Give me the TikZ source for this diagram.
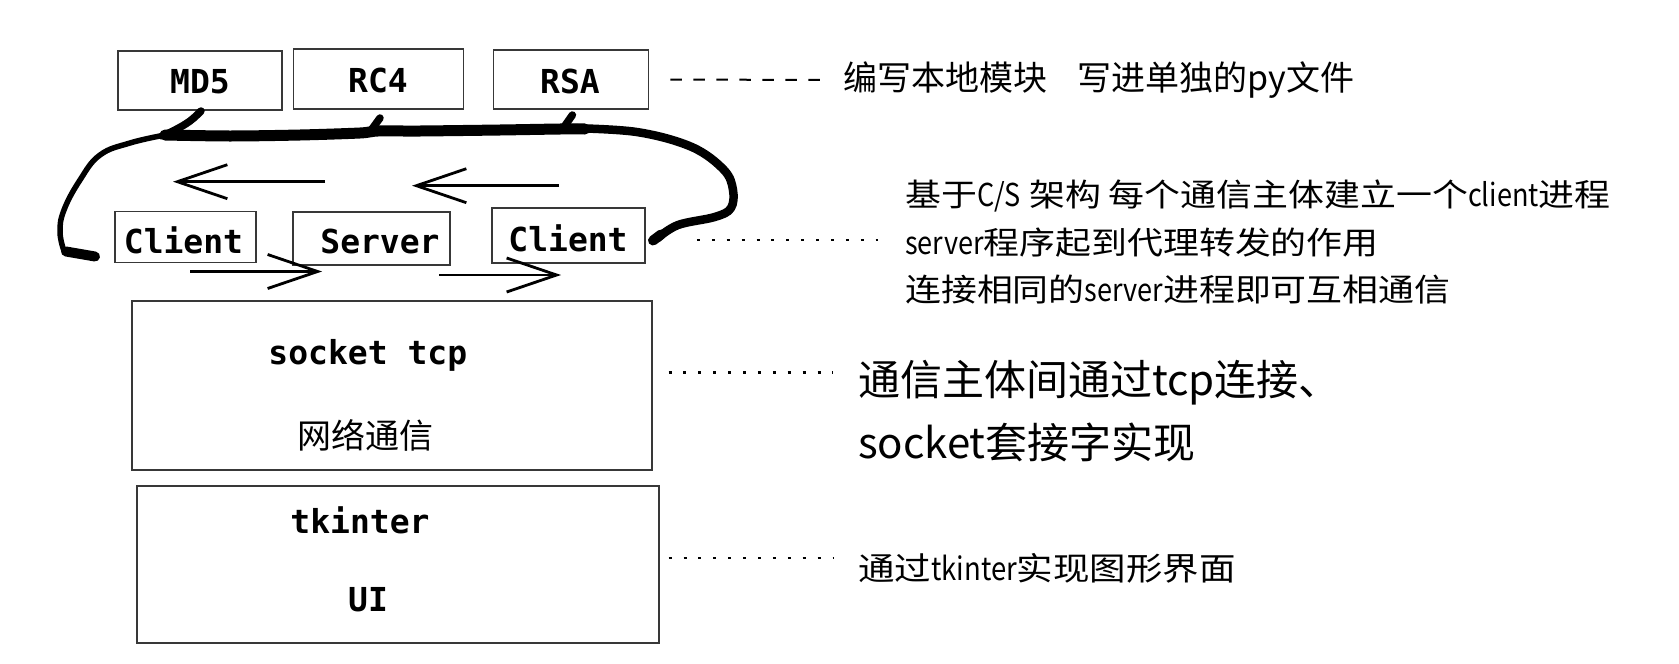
\documentclass[tikz,border=0pt]{standalone}
\usepackage{fontspec}
\newfontfamily\monof{DejaVu Sans Mono Bold}
\newfontfamily\cjkA{Noto Sans CJK SC}
\newfontfamily\cjkB[FakeStretch=1.14]{Noto Sans CJK SC}
\newfontfamily\latn[FakeStretch=0.86]{Noto Sans CJK SC}
\usetikzlibrary{arrows.meta,calc}
\begin{document}
\begin{tikzpicture}[x=1pt,y=-1pt,
  boxline/.style={draw=black!78, line width=1.8pt, inner sep=0pt},
  mono/.style={inner sep=0pt, anchor=base, font=\monof\fontsize{33}{40}\selectfont},
  note/.style={inner sep=0pt, anchor=west},
  arr/.style={line width=2.8pt, -{Straight Barb[length=50pt,width=34pt]}},
  dotline/.style={line width=2.6pt, dash pattern=on 3pt off 11.9pt},
  dashline/.style={line width=2pt, dash pattern=on 11.5pt off 11.5pt},
  ink/.style={line cap=round, line join=round}
]
\fill[white] (0,0) rectangle (1679,664);
\useasboundingbox (0,0) rectangle (1679,664);

% boxes
\node[boxline, minimum width=164pt, minimum height=59pt] (md5) at (200,80.5) {};
\node[boxline, minimum width=170pt, minimum height=60pt] (rc4) at (378.5,79) {};
\node[boxline, minimum width=155pt, minimum height=59pt] (rsa) at (571,79.5) {};
\node[boxline, minimum width=141pt, minimum height=51pt] (c1) at (185.5,237) {};
\node[boxline, minimum width=157pt, minimum height=53pt] (srv) at (371.7,238.3) {};
\node[boxline, minimum width=153pt, minimum height=55pt] (c2) at (568.5,235.5) {};
\node[boxline, minimum width=519.6pt, minimum height=169pt] (netbox) at (391.8,385.5) {};
\node[boxline, minimum width=522.6pt, minimum height=157.3pt] (uibox) at (398,564.7) {};

% box texts
\node[mono] (md5t) at (200,93.3) {MD5};
\node[mono] (rc4t) at (378,92.3) {RC4};
\node[mono] (rsat) at (570,93.3) {RSA};
\node[mono] (c1t) at (183.5,253.3) {Client};
\node[mono] (srvt) at (380,253.3) {Server};
\node[mono] (c2t) at (568,251.7) {Client};
\node[mono] (sockt) at (367.8,364) {socket tcp};
\node[inner sep=0pt, font=\cjkA\fontsize{34}{40}\selectfont] (wlt) at (365.6,435) {网络通信};
\node[mono] (tkt) at (360,533.5) {tkinter};
\node[mono] (uit) at (368,611.7) {UI};

% side notes
\node[note, font=\cjkA\fontsize{34}{40}\selectfont] (t1) at (843,80) {编写本地模块\hspace{0.9em}写进单独的py文件};
\node[note, font=\cjkB\fontsize{31.5}{40}\selectfont] (t2a) at (905,196) {基于{\latn C/S} 架构 每个通信主体建立一个{\latn client}进程};
\node[note, font=\cjkB\fontsize{31.5}{40}\selectfont] (t2b) at (905,243) {{\latn server}程序起到代理转发的作用};
\node[note, font=\cjkB\fontsize{31.5}{40}\selectfont] (t2c) at (905,290) {连接相同的{\latn server}进程即可互相通信};
\node[note, font=\cjkA\fontsize{42}{50}\selectfont] (t3a) at (858,383) {通信主体间通过tcp连接、};
\node[note, font=\cjkA\fontsize{42}{50}\selectfont] (t3b) at (858,442) {socket套接字实现};
\node[note, font=\cjkB\fontsize{32}{40}\selectfont] (t4) at (858,568) {通过{\latn tkinter}实现图形界面};

% leader lines
\draw[dashline] ([xshift=21pt]rsa.east) -- ([xshift=-19pt]t1.west);
\draw[dotline] ($(c2.east)+(51,4.5)$) -- ($(t2b.west)+(-27,-3)$);
\draw[dotline] ($(netbox.east)+(16,-12.8)$) -- ($(t3a.west)+(-25,-10.3)$);
\draw[dotline] ($(uibox.east)+(8.4,-6.7)$) -- ($(t4.west)+(-25,-10)$);

% arrows
\coordinate (l1s) at (325,181.7); \coordinate (l1e) at (173,181.7);
\coordinate (l2s) at (559,185.7); \coordinate (l2e) at (412,185.7);
\coordinate (r1s) at (190,271.5); \coordinate (r1e) at (322,271.5);
\coordinate (r2s) at (439,275);   \coordinate (r2e) at (561,275);
\draw[arr] (l1s) -- (l1e);
\draw[arr] (l2s) -- (l2e);
\draw[arr] (r1s) -- (r1e);
\draw[arr] (r2s) -- (r2e);

% hand-drawn loop
\draw[ink, line width=10pt] (95,256.5) -- (66,251.5);
\draw[ink, line width=5.5pt] plot[smooth, tension=0.7] coordinates {(64,251) (60,232) (64,210) (80,180) (100,155) (130,143) (165,135)};
\draw[ink, line width=7.5pt] plot[smooth, tension=0.7] coordinates {(201,111) (190,121) (175,130) (162,136)};
\draw[ink, line width=11pt] plot[smooth, tension=0.5] coordinates {(165,135) (230,136) (300,135) (360,133) (378,131) (420,131) (500,130) (560,129) (585,129)};
\draw[ink, line width=7.5pt] (380,118) -- (372,129);
\draw[ink, line width=7.5pt] (572.4,115) -- (564,127);
\draw[ink, line width=8.5pt] plot[smooth, tension=0.6] coordinates {(568,128) (636.7,132) (691.8,147) (724,170) (733,190) (730.8,208.3) (714.7,217) (678,225) (657.4,238.3)};
\draw[ink, line width=10pt] (661,234.5) -- (653,240.5);
\end{tikzpicture}
\end{document}
